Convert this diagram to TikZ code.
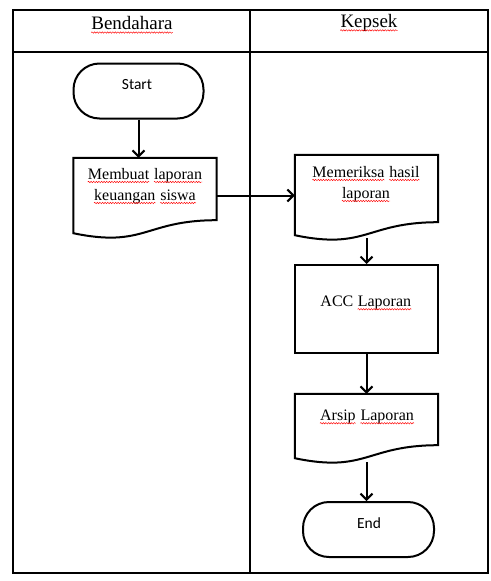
\documentclass[tikz,border=0pt]{standalone}
\usepackage{fontspec}
\setmainfont{Liberation Serif}
\newfontfamily\calibri{Carlito}
\usetikzlibrary{arrows.meta,decorations.pathmorphing}

% red spell-check wave under a word
\newcommand\sq[1]{\tikz[baseline=(w.base)]{\node[inner sep=0pt] (w) {#1};
  \draw[red, line width=0.45pt, decorate, decoration={snake, segment length=2.6pt, amplitude=0.7pt}]
    ([yshift=-2.8pt]w.base west) -- ([yshift=-2.8pt]w.base east);}}

% outline of a document symbol drawn round an empty node
\newcommand\docpath[1]{%
  \draw[docline] (#1.north west) -- (#1.north east) -- ([yshift=13pt]#1.south east)
    .. controls ([yshift=13pt]#1.south) and ([yshift=-15pt]#1.south) .. (#1.south west) -- cycle;}

\tikzset{
  lane/.style={line width=2.4pt},
  term/.style={draw, line width=2pt, rounded corners=26pt, minimum width=130pt, minimum height=55pt},
  proc/.style={draw, line width=2pt, minimum width=143pt, minimum height=88pt},
  doc/.style={minimum width=143pt},
  docline/.style={line width=2pt},
  txt/.style={align=center, font=\rmfamily\fontsize{16}{21}\selectfont},
  htxt/.style={font=\rmfamily\fontsize{19}{22}\selectfont},
  stxt/.style={font=\calibri\fontsize{15.5}{18}\selectfont},
  flow/.style={-{Straight Barb[length=6pt,width=12pt]}, line width=2pt}
}

\begin{document}
\begin{tikzpicture}[x=1pt, y=-1pt]
  \useasboundingbox (0,0) rectangle (490,581);

  % swimlanes
  \draw[lane] (13,10) rectangle (488,573);
  \draw[lane] (250,10) -- (250,573);
  \draw[lane] (13,52) -- (488,52);
  \node[htxt] (hbend) at (132,25) {\sq{Bendahara}};
  \node[htxt] (hkep) at (369,23) {\sq{Kepsek}};

  % Bendahara
  \node[term] (start) at (138.5,91) {};
  \node[stxt] (tstart) at (137,85) {Start};
  \node[doc, minimum height=75pt] (d1) at (145,195.5) {};
  \docpath{d1}
  \node[txt] (td1) at (145,186) {\sq{Membuat} \sq{laporan}\\ \sq{keuangan} \sq{siswa}};

  % Kepsek
  \node[doc, minimum height=80pt] (d2) at (366.5,195) {};
  \docpath{d2}
  \node[txt] (td2) at (366,184) {\sq{Memeriksa} \sq{hasil}\\ \sq{laporan}};
  \node[proc] (acc) at (366.5,309) {};
  \node[txt] (tacc) at (366,303) {ACC \sq{Laporan}};
  \node[doc, minimum height=64pt] (d3) at (366.5,426) {};
  \docpath{d3}
  \node[txt] (td3) at (367,417) {\sq{Arsip} \sq{Laporan}};
  \node[term, minimum width=131pt] (end) at (368.5,529.5) {};
  \node[stxt] (tend) at (369,523) {End};

  % flow
  \draw[flow] (start.south) -- (start.south |- d1.north);
  \draw[flow] (d1.east) -- (d1.east -| d2.west);
  \draw[flow] (d2.south) ++(0,3) -- (acc.north);
  \draw[flow] (acc) -- (d3);
  \draw[flow] (d3.south) ++(0,4) -- (end.north -| d3.south);
\end{tikzpicture}
\end{document}
